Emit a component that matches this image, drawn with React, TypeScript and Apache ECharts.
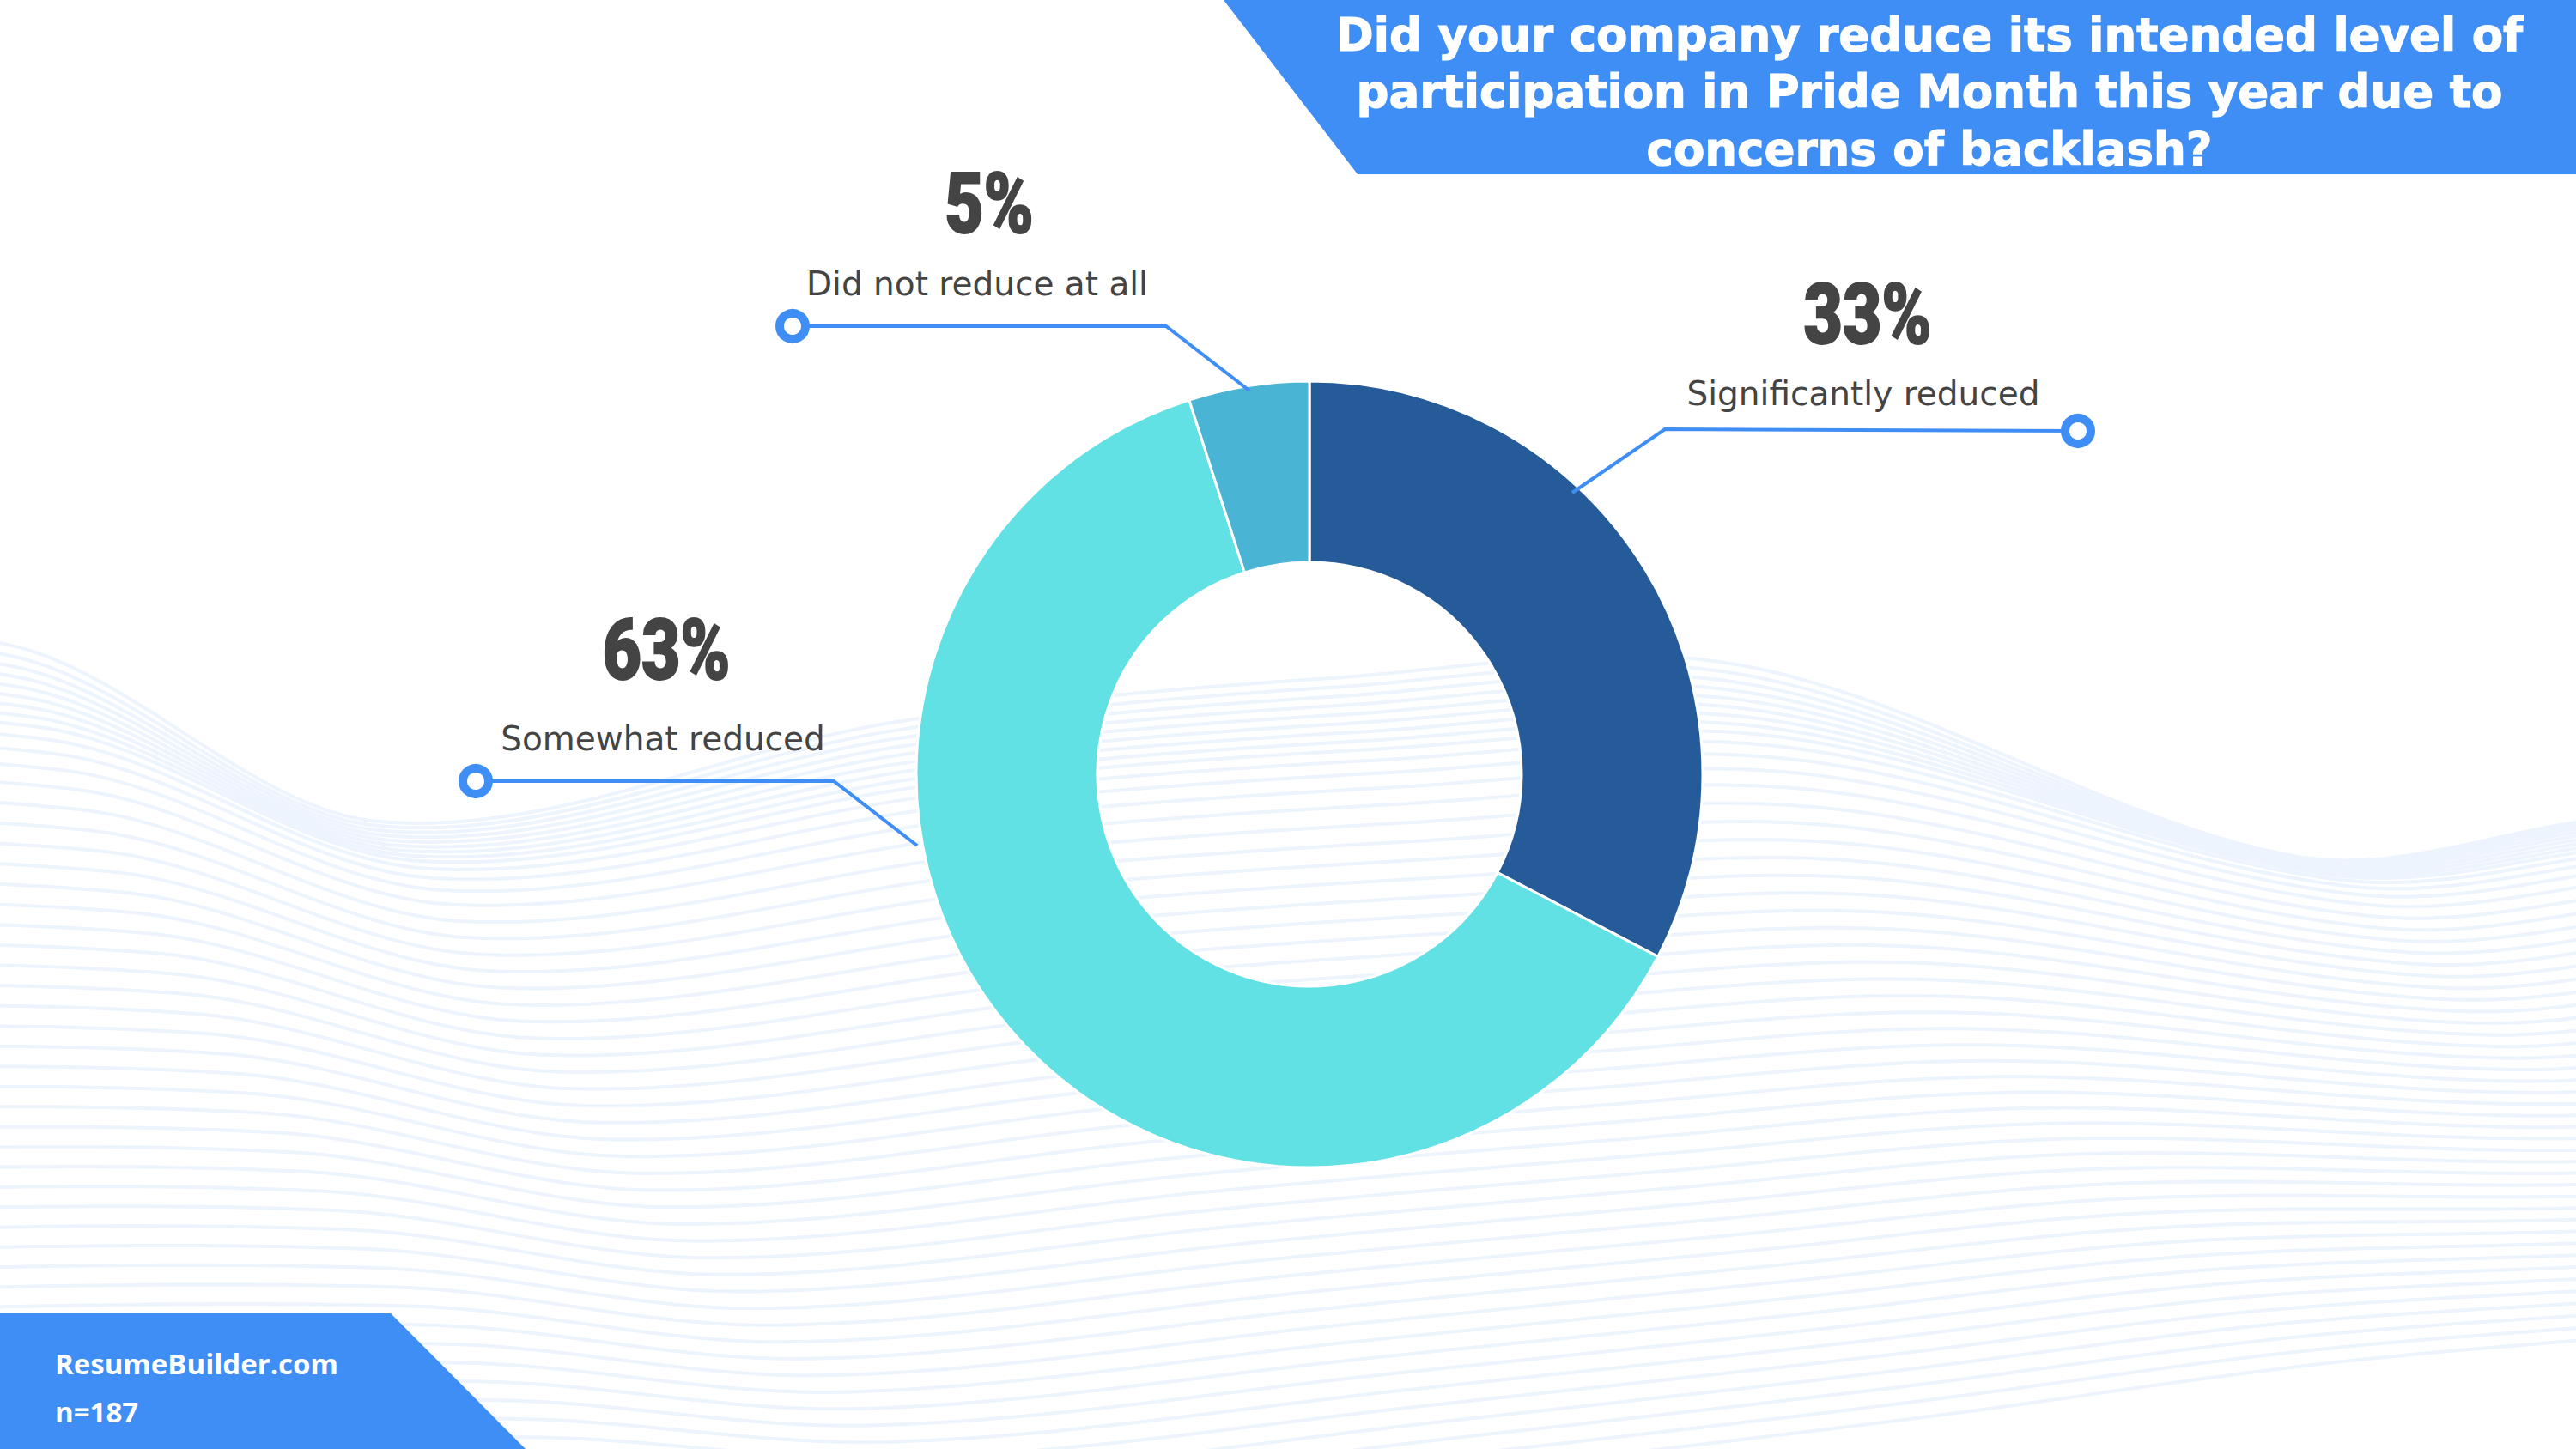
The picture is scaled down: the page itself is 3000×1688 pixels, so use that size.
import React, { useEffect, useRef } from 'react';
import * as echarts from 'echarts';

// ---- data ----
const categories = ['Significantly reduced', 'Somewhat reduced', 'Did not reduce at all'];
const values = [33, 63, 5];
const sliceColors = ['#265B99', '#62E1E5', '#4AB4D4'];
const titleLines = [
  'Did your company reduce its intended level of',
  'participation in Pride Month this year due to',
  'concerns of backlash?',
];
const sourceLines = ['ResumeBuilder.com', 'n=187'];

// ---- layout ----
const W = 3000;
const H = 1688;
const CENTER = [1525, 902];
const R_IN = 247;
const R_OUT = 458;
const ACCENT = '#3F8EF6';
const TEXT = '#444444';

const labelLayout = [
  { line: [[2420, 502], [1939, 500], [1831, 574]], pctX: 2175, nameX: 2170, pctY: 367, nameY: 458 },
  { line: [[554, 910], [971, 910], [1068, 985]], pctX: 776, nameX: 772, pctY: 758, nameY: 860 },
  { line: [[923, 380], [1358, 380], [1455, 455]], pctX: 1152, nameX: 1138, pctY: 238, nameY: 330 },
];

// background wave guide curve (decoration)
const waveTop = [
  [-1400, 930], [-700, 760], [0, 749], [440, 957], [1050, 840], [1550, 790],
  [2028, 775], [2670, 997], [3000, 958], [3600, 860], [4300, 930],
];

function curveAt(pts: number[][], x: number) {
  let i = 0;
  while (i < pts.length - 2 && x > pts[i + 1][0]) i++;
  const p0 = pts[Math.max(0, i - 1)];
  const p1 = pts[i];
  const p2 = pts[i + 1];
  const p3 = pts[Math.min(pts.length - 1, i + 2)];
  const h = p2[0] - p1[0];
  const t = Math.min(1, Math.max(0, (x - p1[0]) / h));
  const m1 = ((p2[1] - p0[1]) / (p2[0] - p0[0])) * h;
  const m2 = ((p3[1] - p1[1]) / (p3[0] - p1[0])) * h;
  const t2 = t * t;
  const t3 = t2 * t;
  return (
    (2 * t3 - 3 * t2 + 1) * p1[1] +
    (t3 - 2 * t2 + t) * m1 +
    (-2 * t3 + 3 * t2) * p2[1] +
    (t3 - t2) * m2
  );
}

function buildWaves() {
  const REF = 870;
  const N = 50;
  const lines: any[] = [];
  let D = 0;
  for (let i = 0; i < N; i++) {
    const amp = Math.exp(-i / 28);
    const shift = 700 * Math.pow(i / (N - 1), 1.5);
    const pts: number[][] = [];
    for (let x = -20; x <= W + 20; x += 25) {
      const k = 1 - 0.25 * Math.pow(Math.max(0, x) / W, 2);
      const y = REF + D * k + amp * (curveAt(waveTop, x - shift) - REF);
      pts.push([x, y]);
    }
    lines.push({
      type: 'polyline',
      silent: true,
      z: 0,
      shape: { points: pts, smooth: 0 },
      style: { stroke: '#EDF4FE', lineWidth: 4, fill: null },
    });
    const s = i < 8 ? 8.5 : i < 13 ? 8.5 + (i - 7) * 2.6 : 21.5;
    D += s;
  }
  return lines;
}

export default function App() {
  const ref = useRef<HTMLDivElement>(null);

  useEffect(() => {
    if (!ref.current) return;
    const chart = echarts.init(ref.current, null, { renderer: 'svg' });

    const elements: any[] = [...buildWaves()];

    // title banner
    elements.push({
      type: 'polygon',
      z: 20,
      silent: true,
      shape: { points: [[1425, 0], [W, 0], [W, 203], [1581, 203]] },
      style: { fill: ACCENT },
    });
    titleLines.forEach((t, i) => {
      elements.push({
        type: 'text',
        z: 21,
        silent: true,
        style: {
          text: t,
          x: 2247,
          y: 40 + i * 66.5,
          textAlign: 'center',
          textVerticalAlign: 'middle',
          fill: '#FFFFFF',
          stroke: '#FFFFFF',
          lineWidth: 1.2,
          font: 'bold 53px "DejaVu Sans", sans-serif',
        },
      });
    });

    // footer banner
    elements.push({
      type: 'polygon',
      z: 20,
      silent: true,
      shape: { points: [[0, 1530], [455, 1530], [612, H], [0, H]] },
      style: { fill: ACCENT },
    });
    sourceLines.forEach((t, i) => {
      elements.push({
        type: 'text',
        z: 21,
        silent: true,
        style: {
          text: t,
          x: 64,
          y: 1588 + i * 56,
          textAlign: 'left',
          textVerticalAlign: 'middle',
          fill: '#FFFFFF',
          font: 'bold 33px "Open Sans", sans-serif',
        },
      });
    });

    // labels with leader lines
    labelLayout.forEach((lay, i) => {
      elements.push({
        type: 'polyline',
        z: 10,
        silent: true,
        shape: { points: lay.line },
        style: { stroke: ACCENT, lineWidth: 4, fill: null },
      });
      elements.push({
        type: 'circle',
        z: 11,
        silent: true,
        shape: { cx: lay.line[0][0], cy: lay.line[0][1], r: 15 },
        style: { fill: '#FFFFFF', stroke: ACCENT, lineWidth: 10 },
      });
      elements.push({
        type: 'text',
        z: 10,
        silent: true,
        x: lay.pctX,
        y: lay.pctY,
        scaleX: 0.8,
        scaleY: 1,
        style: {
          text: `${values[i]}%`,
          x: 0,
          y: 0,
          textAlign: 'center',
          textVerticalAlign: 'middle',
          fill: TEXT,
          stroke: TEXT,
          lineWidth: 2,
          font: '900 98px Roboto, sans-serif',
        },
      });
      elements.push({
        type: 'text',
        z: 10,
        silent: true,
        style: {
          text: categories[i],
          x: lay.nameX,
          y: lay.nameY,
          textAlign: 'center',
          textVerticalAlign: 'middle',
          fill: TEXT,
          font: '39px "DejaVu Sans", sans-serif',
        },
      });
    });

    chart.setOption({
      animation: false,
      backgroundColor: '#FFFFFF',
      graphic: elements,
      series: [
        {
          type: 'pie',
          center: CENTER,
          radius: [R_IN, R_OUT],
          startAngle: 90,
          clockwise: true,
          silent: true,
          z: 5,
          label: { show: false },
          labelLine: { show: false },
          itemStyle: { borderColor: '#FFFFFF', borderWidth: 3 },
          data: categories.map((c, i) => ({
            name: c,
            value: values[i],
            itemStyle: { color: sliceColors[i] },
          })),
        },
      ],
    });

    return () => chart.dispose();
  }, []);

  return (
    <div
      ref={ref}
      style={{ position: 'fixed', left: 0, top: 0, width: W, height: H }}
    />
  );
}
